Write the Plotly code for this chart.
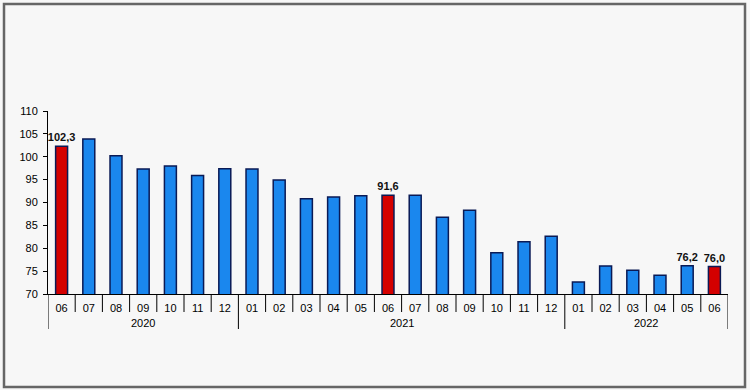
import plotly.graph_objects as go

years = ["2020"] * 7 + ["2021"] * 12 + ["2022"] * 6
months = ["06", "07", "08", "09", "10", "11", "12",
          "01", "02", "03", "04", "05", "06", "07", "08", "09", "10", "11", "12",
          "01", "02", "03", "04", "05", "06"]
values = [102.3, 103.9, 100.2, 97.3, 98.0, 95.9, 97.4,
          97.3, 94.9, 90.8, 91.2, 91.5, 91.6, 91.6, 86.8, 88.3, 79.0, 81.4, 82.6,
          72.6, 76.1, 75.2, 74.1, 76.2, 76.0]
highlight = [0, 12, 24]
labels_idx = [0, 12, 23, 24]

n = len(values)
xs = list(range(n))
colors = ["#d40000" if i in highlight else "#1a87ee" for i in range(n)]
texts = [f"{v:.1f}".replace(".", ",") if i in labels_idx else "" for i, v in enumerate(values)]

fig = go.Figure(go.Bar(
    x=xs, y=values,
    marker=dict(color=colors, line=dict(color="#0a1a55", width=1.5)),
    width=0.44,
    text=texts, textposition="outside", cliponaxis=False, constraintext="none",
    textfont=dict(family="Arial, Liberation Sans", size=11, color="#111111"),
    texttemplate="<b>%{text}</b>",
))

PH = 183.0  # plot height px
month_tick = 18 / PH
year_tick = 35 / PH

shapes = []
annotations = []
# month boundaries
for i in range(n + 1):
    is_year_edge = i == 0 or i == n or years[i] != years[i - 1]
    shapes.append(dict(type="line", xref="x", yref="paper", x0=i - 0.5, x1=i - 0.5,
                       y0=0, y1=-(year_tick if is_year_edge else month_tick),
                       line=dict(color="#000", width=1)))
# year labels
start = 0
for i in range(1, n + 1):
    if i == n or years[i] != years[start]:
        annotations.append(dict(x=(start + i - 1) / 2, y=-29 / PH, xref="x", yref="paper",
                                text=years[start], showarrow=False, yanchor="middle",
                                font=dict(size=11, color="#000")))
        start = i

shapes.append(dict(type="rect", xref="paper", yref="paper", x0=-0.0647, x1=1.025,
                   y0=-0.508, y1=1.585, line=dict(color="#666666", width=2.5),
                   fillcolor="rgba(0,0,0,0)", layer="below"))

fig.update_layout(
    width=750, height=390,
    margin=dict(l=48, r=22, t=111, b=96),
    paper_bgcolor="#f7f7f7", plot_bgcolor="#f7f7f7",
    showlegend=False,
    font=dict(family="Arial, Liberation Sans", size=11, color="#000"),
    xaxis=dict(range=[-0.5, n - 0.5], tickmode="array", tickvals=xs, ticktext=months,
               showline=True, linecolor="#000", linewidth=1, ticks="", ticklabelstandoff=4,
               tickfont=dict(size=11, color="#000"), showgrid=False, zeroline=False),
    yaxis=dict(range=[70, 110], dtick=5, showline=True, linecolor="#000", linewidth=1,
               ticks="outside", ticklen=4, tickcolor="#000", showgrid=False,
               ticklabelstandoff=3, zeroline=False, tickfont=dict(size=11, color="#000")),
    shapes=shapes,
    annotations=annotations,
)

fig.write_html("out.html")
